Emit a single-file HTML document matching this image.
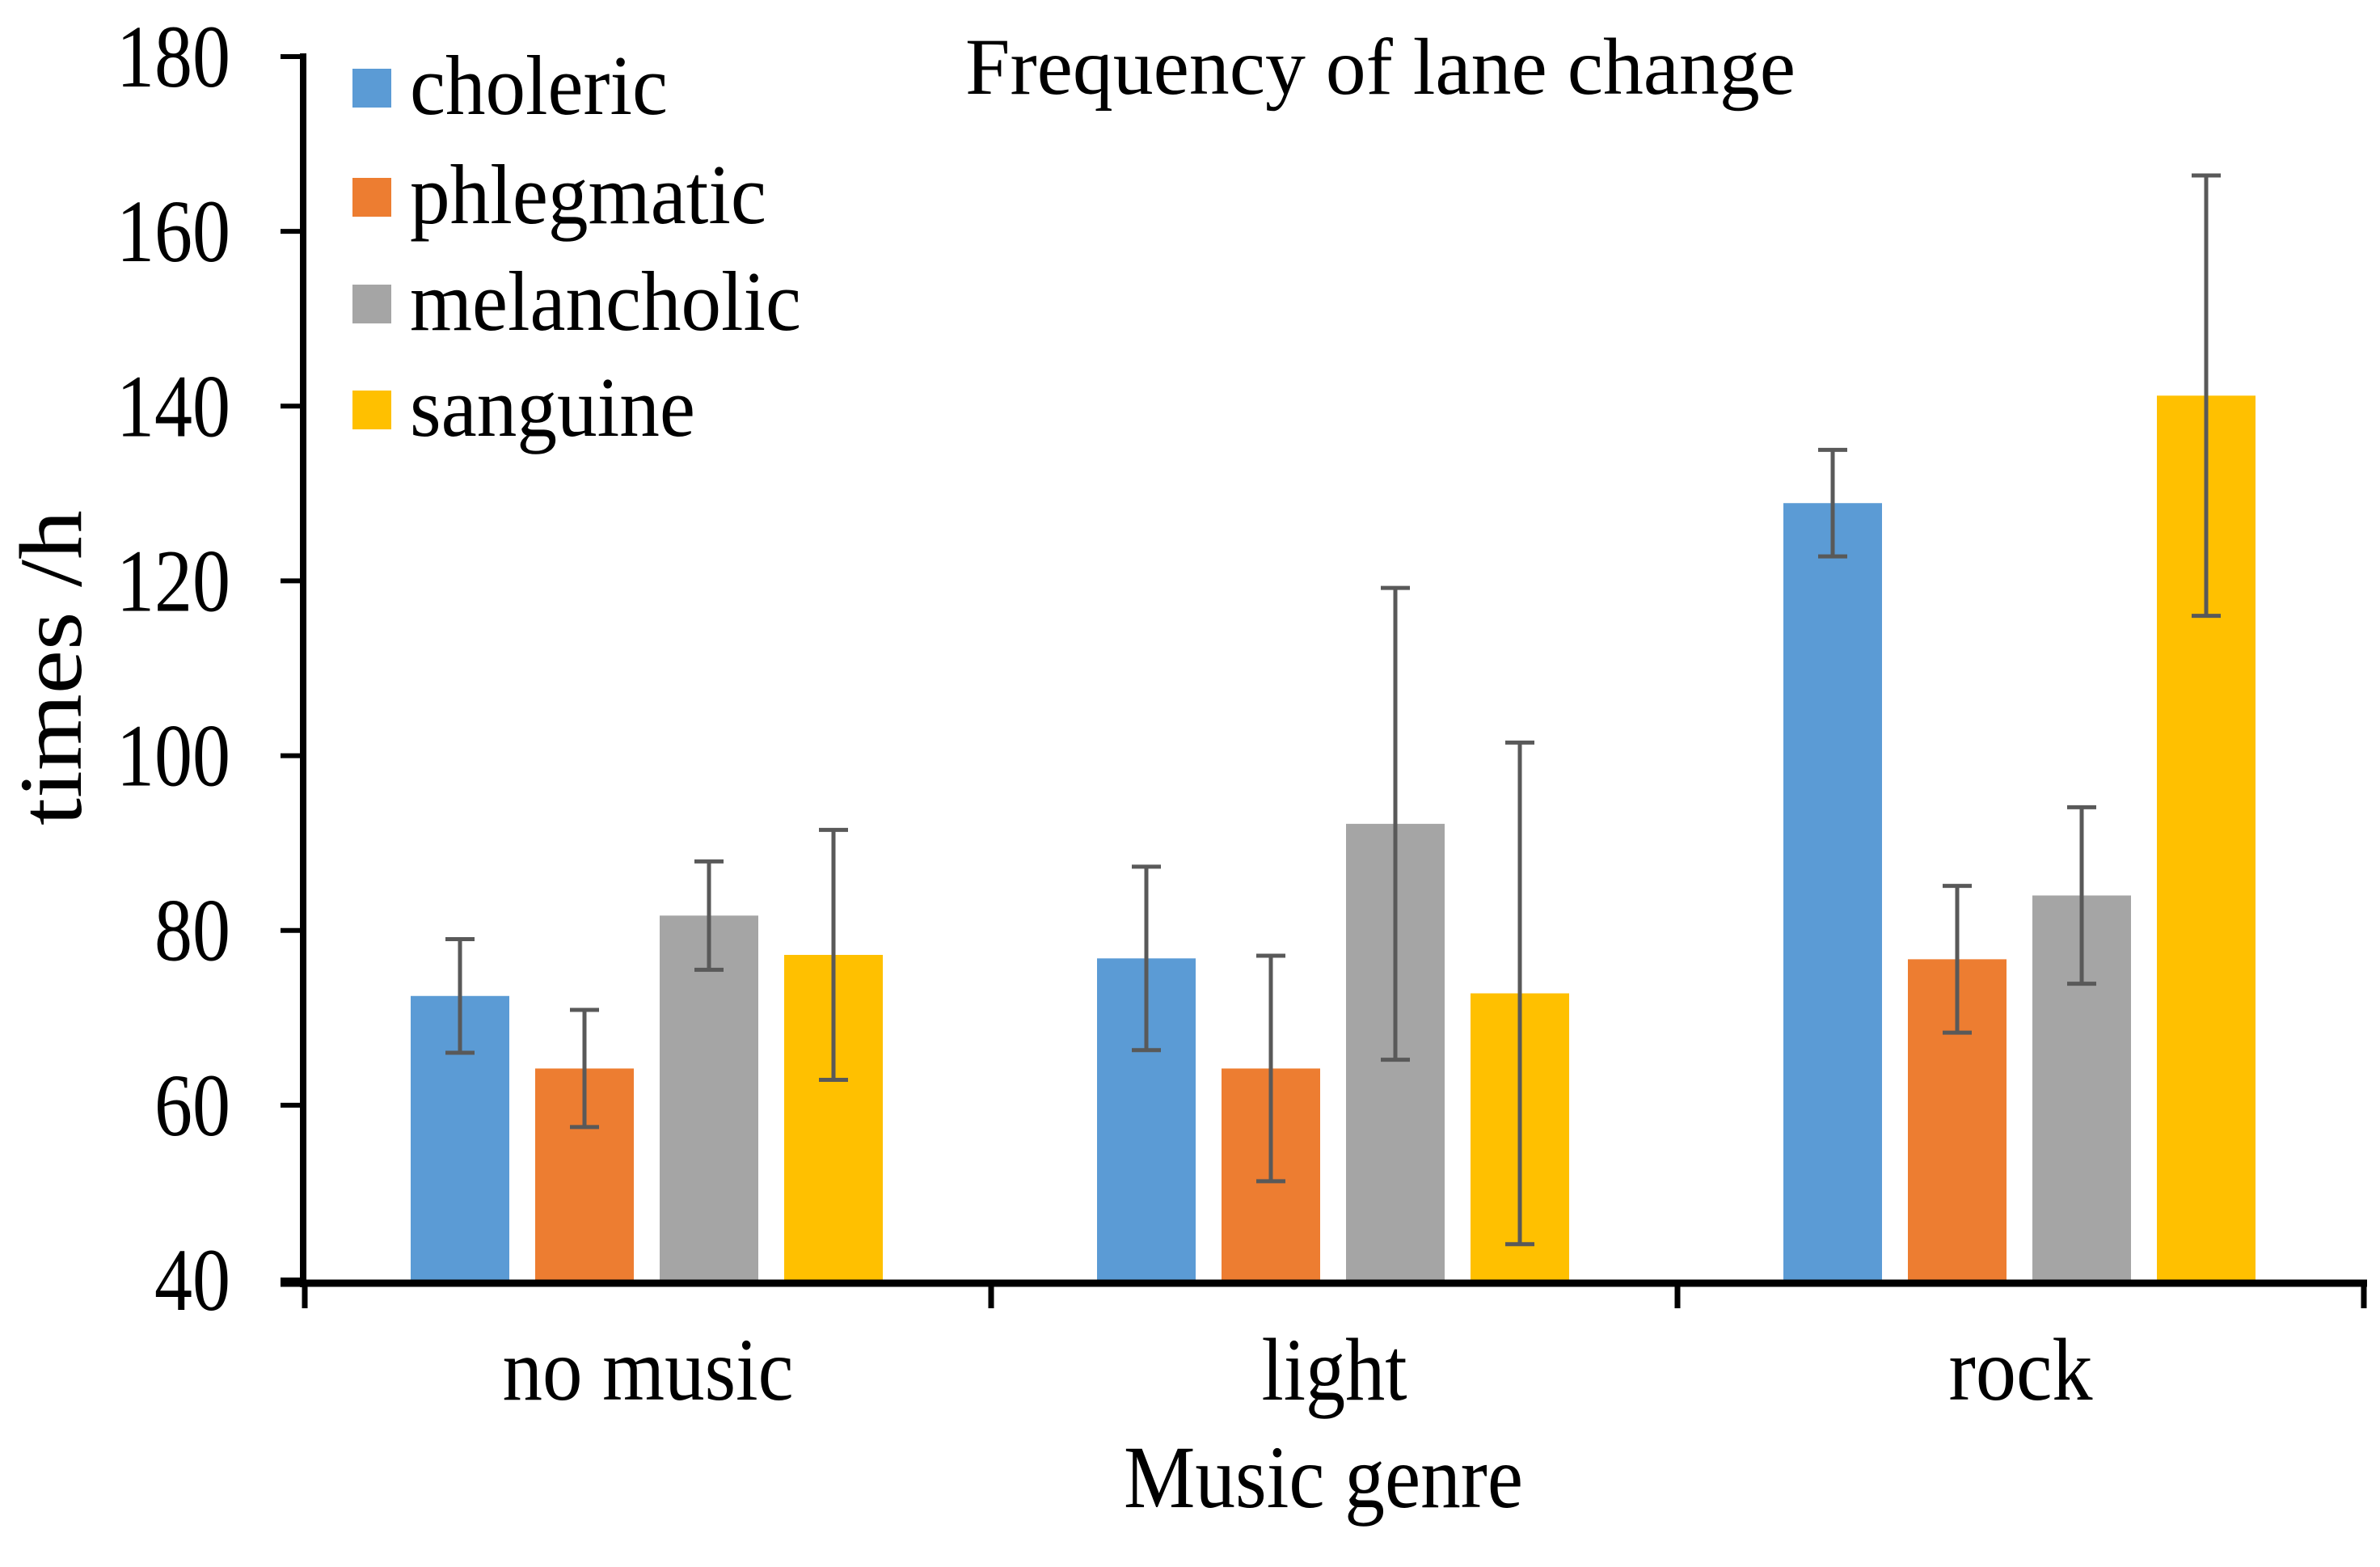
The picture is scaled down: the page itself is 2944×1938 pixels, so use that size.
<!DOCTYPE html>
<html><head><meta charset="utf-8"><style>
html,body{margin:0;padding:0;background:#fff;}
svg{display:block;font-family:"Liberation Serif",serif;}
</style></head><body>
<svg id="chart" width="2944" height="1938" viewBox="0 0 2944 1938" xmlns="http://www.w3.org/2000/svg">
<g id="bars"></g>
<g id="errs"></g>
<g id="axes"></g>
<text x="1194" y="116" font-size="100" textLength="1027" lengthAdjust="spacingAndGlyphs">Frequency of lane change</text>
<text x="1637" y="1864" font-size="110" text-anchor="middle" textLength="494" lengthAdjust="spacingAndGlyphs">Music genre</text>
<text transform="translate(100,826) rotate(-90)" font-size="110" text-anchor="middle" textLength="390" lengthAdjust="spacingAndGlyphs">times /h</text>
<g id="legend"></g>
</svg>
<script>
const categories = ["no music", "light", "rock"];
const seriesNames = ["choleric", "phlegmatic", "melancholic", "sanguine"];
const colors = ["#5b9bd5", "#ed7d31", "#a5a5a5", "#ffc000"];
const choleric = [72.5, 76.8, 128.9];
const phlegmatic = [64.2, 64.2, 76.7];
const melancholic = [81.7, 92.2, 84.0];
const sanguine = [77.2, 72.8, 141.2];
const cholericErr = [6.5, 10.5, 6.1];
const phlegmaticErr = [6.7, 12.9, 8.4];
const melancholicErr = [6.2, 27.0, 10.1];
const sanguineErr = [14.3, 28.7, 25.2];
const yTicks = [40, 60, 80, 100, 120, 140, 160, 180];
const catLabelWidths = [360, 180, 178];
const legendWidths = [319, 441, 484, 353];

const values = [choleric, phlegmatic, melancholic, sanguine];
const errs = [cholericErr, phlegmaticErr, melancholicErr, sanguineErr];
const NS = "http://www.w3.org/2000/svg";
const y0 = 1583, yTop = 70, vMin = 40, vMax = 180;
const xLeft = 377, catW = 849;
function y(v){ return y0 - (v - vMin) * (y0 - yTop) / (vMax - vMin); }
function catX(i){ return xLeft + i * catW; }
const barW = 122, gap = 32, groupOff = 131;
function barX(c, s){ return catX(c) + groupOff + s * (barW + gap); }
function mk(tag, attrs, parent){ const e = document.createElementNS(NS, tag); for (const k in attrs) e.setAttribute(k, attrs[k]); parent.appendChild(e); return e; }

const gb = document.getElementById('bars'), ge = document.getElementById('errs'), ga = document.getElementById('axes'), gl = document.getElementById('legend');
for (let c = 0; c < categories.length; c++) {
  for (let s = 0; s < values.length; s++) {
    const v = values[s][c];
    const r = mk('rect', {x: barX(c, s), y: y(v), width: barW, height: y0 - y(v), fill: colors[s]}, gb);
    
    
    const cx = barX(c, s) + barW / 2, e = errs[s][c];
    const g = mk('g', {stroke: '#595959', 'stroke-width': 5}, ge);
    
    
    mk('line', {x1: cx, x2: cx, y1: y(v + e), y2: y(v - e)}, g);
    mk('line', {x1: cx - 18, x2: cx + 18, y1: y(v + e), y2: y(v + e)}, g);
    mk('line', {x1: cx - 18, x2: cx + 18, y1: y(v - e), y2: y(v - e)}, g);
  }
  const t = mk('text', {x: catX(c) + catW / 2, y: 1731, 'font-size': 110, 'text-anchor': 'middle', textLength: catLabelWidths[c], lengthAdjust: 'spacingAndGlyphs'}, ga);
  t.textContent = categories[c];
  
  
}
// axes
const ya = mk('line', {x1: 375, x2: 375, y1: 66, y2: 1592, stroke: '#000', 'stroke-width': 8}, ga);


const xa = mk('line', {x1: 347, x2: 2928, y1: 1587, y2: 1587, stroke: '#000', 'stroke-width': 9}, ga);


for (let i = 0; i <= categories.length; i++) {
  mk('line', {x1: catX(i), x2: catX(i), y1: 1587, y2: 1618, stroke: '#000', 'stroke-width': 7}, ga);
}
for (const v of yTicks) {
  mk('line', {x1: 347, x2: 375, y1: y(v), y2: y(v), stroke: '#000', 'stroke-width': 6}, ga);
  const t = mk('text', {x: 285, y: y(v) + 37, 'font-size': 110, 'text-anchor': 'end', textLength: String(v).length * 47, lengthAdjust: 'spacingAndGlyphs'}, ga);
  t.textContent = v;
  
  
}
// legend
const rowsY = [109, 244, 376, 507];
for (let s = 0; s < seriesNames.length; s++) {
  const g = mk('g', {}, gl);
  
  
  mk('rect', {x: 436, y: rowsY[s] - 24, width: 48, height: 48, fill: colors[s]}, g);
  const t = mk('text', {x: 507, y: rowsY[s] + 32, 'font-size': 105, textLength: legendWidths[s], lengthAdjust: 'spacingAndGlyphs'}, g);
  t.textContent = seriesNames[s];
}
</script>
</body></html>
